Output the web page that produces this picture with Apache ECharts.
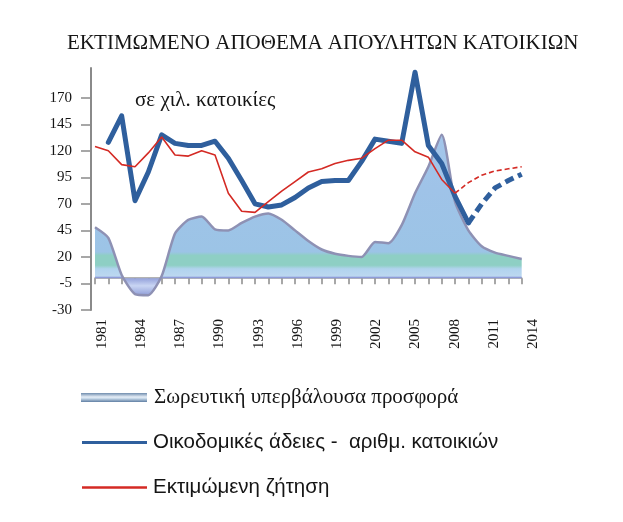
<!DOCTYPE html>
<html>
<head>
<meta charset="utf-8">
<script src="https://cdn.jsdelivr.net/npm/echarts@6/dist/echarts.min.js"></script>
<style>
html,body{margin:0;padding:0;background:#fff;}
#c{width:623px;height:522px;}
</style>
</head>
<body>
<div id="c"></div>
<script>
// ---- data ----
var years = [1981,1982,1983,1984,1985,1986,1987,1988,1989,1990,1991,1992,1993,1994,1995,1996,1997,1998,1999,2000,2001,2002,2003,2004,2005,2006,2007,2008,2009,2010,2011,2012,2013];
var tickLabels = [1981,1982,1983,1984,1985,1986,1987,1988,1989,1990,1991,1992,1993,1994,1995,1996,1997,1998,1999,2000,2001,2002,2003,2004,2005,2006,2007,2008,2009,2010,2011,2012,2013,2014];
var yTicks = [-30,-5,20,45,70,95,120,145,170];
// Σωρευτική υπερβάλουσα προσφορά
var oversupply = [48,38,3,-15,-16,2,42,55,58,46,45,52,58,61,55,45,35,27,23,21,20,34,33,50,80,105,135,72,45,30,24,21,18];
// Οικοδομικές άδειες - αριθμ. κατοικιών
var permits = [null,128,153,73,100,135,127,125,125,129,113,92,70,67,69,76,85,91,92,92,110,131,129,127,194,125,108,77,52,70,85,92,98];
// Εκτιμώμενη ζήτηση
var demand = [124,120,107,105,118,133,116,115,120,116,80,63,62,72,82,91,100,103,108,111,113,122,130,130,119,114,93,80,90,97,101,103,105];
var permitsProjFrom = 2009;
var demandProjFrom = 2008;

var nameArea = 'Σωρευτική υπερβάλουσα προσφορά';
var nameBlue = 'Οικοδομικές άδειες -  αριθμ. κατοικιών';
var nameRed = 'Εκτιμώμενη ζήτηση';

function split(vals, from, solid){
  return vals.map(function(v,i){
    if (solid) return years[i] <= from ? v : null;
    return years[i] >= from ? v : null;
  });
}

var serif = "'Liberation Serif','Times New Roman',serif";
var sans = "'Liberation Sans',Arial,sans-serif";

var chart = echarts.init(document.getElementById('c'));
var gridTop = 68, gridH = 242;
var option = {
  backgroundColor:'#fff',
  animation:false,
  title:{
    text:'ΕΚΤΙΜΩΜΕΝΟ ΑΠΟΘΕΜΑ ΑΠΟΥΛΗΤΩΝ ΚΑΤΟΙΚΙΩΝ',
    left:62, top:28,
    textStyle:{fontFamily:serif,fontSize:21,fontWeight:'normal',color:'#151515'}
  },
  graphic:[{
    type:'text', left:135, top:90,
    style:{text:'σε χιλ. κατοικίες', font:"21px 'Liberation Serif','Times New Roman',serif", fill:'#151515'}
  }],
  legend:[
    {left:76, top:382, orient:'vertical', itemWidth:66, itemHeight:9, icon:'rect',
     data:[{name:nameArea, itemStyle:{color:{type:'linear',x:0,y:0,x2:0,y2:1,colorStops:[
       {offset:0,color:'#6f8cad'},{offset:0.45,color:'#e6eef7'},{offset:0.6,color:'#c9daea'},{offset:1,color:'#5f7ea3'}]}}}],
     textStyle:{fontFamily:serif,fontSize:21,color:'#151515',padding:[0,0,0,2]}},
    {left:77, top:427, orient:'vertical', itemWidth:65, itemHeight:3, icon:'rect',
     data:[{name:nameBlue}],
     textStyle:{fontFamily:sans,fontSize:20.5,color:'#151515',padding:[0,0,0,1]}},
    {left:77, top:472, orient:'vertical', itemWidth:65, itemHeight:2.5, icon:'rect',
     data:[{name:nameRed}],
     textStyle:{fontFamily:sans,fontSize:20.5,color:'#151515',padding:[0,0,0,1]}}
  ],
  grid:[
    {left:95, top:gridTop, width:426.7, height:gridH},
    {left:102, top:gridTop, width:431, height:gridH}
  ],
  xAxis:[
    {type:'category', gridIndex:0, data:years, boundaryGap:false,
     axisLine:{onZero:true, lineStyle:{color:'#9a9a9a', width:1.5}},
     axisTick:{show:true, interval:0, length:6, lineStyle:{color:'#8a8a8a', width:1.5}},
     axisLabel:{show:false}, splitLine:{show:false}},
    {type:'category', gridIndex:1, data:tickLabels, boundaryGap:false, position:'bottom',
     axisLine:{show:false}, axisTick:{show:false}, splitLine:{show:false},
     axisLabel:{show:true, interval:2, rotate:90, margin:9, fontFamily:serif, fontSize:15, color:'#151515'}}
  ],
  yAxis:[
    {type:'value', gridIndex:0, min:-30, max:198, offset:4,
     axisLine:{show:true, lineStyle:{color:'#8a8a8a', width:2}},
     axisTick:{show:true, customValues:yTicks, length:10, lineStyle:{color:'#8a8a8a', width:1.5}},
     axisLabel:{show:true, customValues:yTicks, margin:19, fontFamily:serif, fontSize:15, color:'#151515'},
     splitLine:{show:false}},
    {type:'value', gridIndex:1, min:-30, max:198, show:false, splitLine:{show:false}}
  ],
  series:[
    {name:nameArea, type:'line', xAxisIndex:0, yAxisIndex:0, data:oversupply, smooth:0.2,
     symbol:'none', z:1,
     lineStyle:{color:'#8e91b4', width:2.5},
     areaStyle:{opacity:1, color:{type:'linear', global:true, x:0, y:68, x2:0, y2:310, colorStops:[
       {offset:0, color:'#a9c9ec'},
       {offset:0.5, color:'#9fc3e8'},
       {offset:0.76, color:'#9cc4e6'},
       {offset:0.775, color:'#8ecfc4'},
       {offset:0.815, color:'#8ecfc4'},
       {offset:0.83, color:'#b1d3ee'},
       {offset:0.86, color:'#bcd8f0'},
       {offset:0.865, color:'#8d9bd8'},
       {offset:0.9, color:'#c9d5f3'},
       {offset:0.95, color:'#8190d2'},
       {offset:1, color:'#7c8ccf'}]}}},
    {name:nameBlue, type:'line', data:split(permits, permitsProjFrom, true), symbol:'none', z:3,
     itemStyle:{color:'#2f5f9d'},
     lineStyle:{color:'#2f5f9d', width:5, cap:'round', join:'round'}},
    {name:'blueProj', type:'line', data:split(permits, permitsProjFrom, false), symbol:'none', z:3,
     lineStyle:{color:'#2f5f9d', width:5, type:[9,5]}},
    {name:nameRed, type:'line', data:split(demand, demandProjFrom, true), symbol:'none', z:4,
     itemStyle:{color:'#d42a24'},
     lineStyle:{color:'#d42a24', width:1.6}},
    {name:'redProj', type:'line', data:split(demand, demandProjFrom, false), symbol:'none', z:4,
     lineStyle:{color:'#d42a24', width:1.6, type:[5,3]}}
  ]
};
chart.setOption(option);
</script>
</body>
</html>
